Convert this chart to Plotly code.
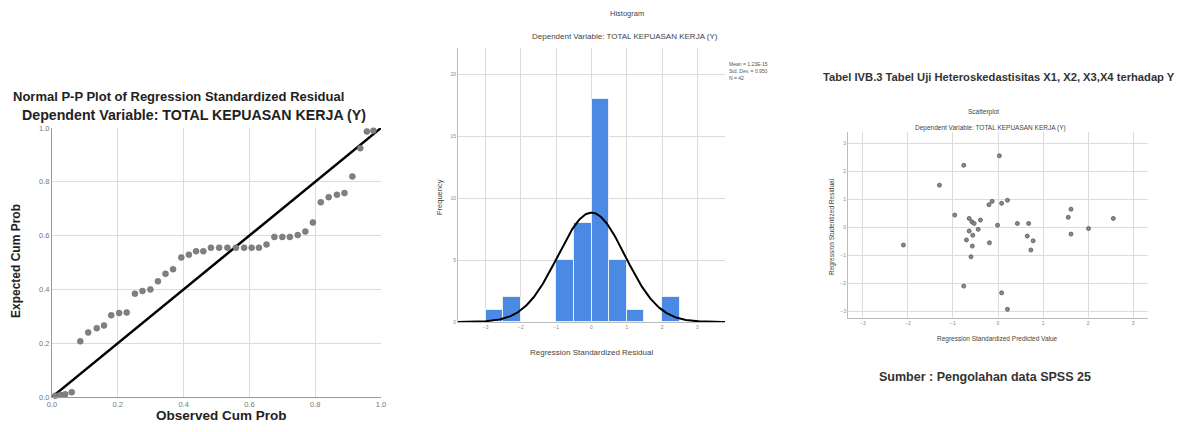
import math
import plotly.graph_objects as go

# The page adds an 8px body margin, so the figure is drawn 8px smaller and
# every reference pixel position is mapped with an 8px offset.
OFF = 8
W, H = 1184 - 2 * OFF, 432 - 2 * OFF

# ---------- Panel 1: Normal P-P plot data ----------
pp_observed = [0.010, 0.025, 0.040, 0.060, 0.086, 0.110, 0.136, 0.158, 0.180, 0.204,
               0.227, 0.252, 0.275, 0.299, 0.322, 0.345, 0.368, 0.393, 0.416, 0.438,
               0.460, 0.483, 0.508, 0.533, 0.559, 0.584, 0.607, 0.629, 0.652, 0.676,
               0.700, 0.723, 0.747, 0.770, 0.793, 0.817, 0.841, 0.866, 0.889, 0.913,
               0.937, 0.957, 0.977]
pp_expected = [0.005, 0.008, 0.010, 0.018, 0.207, 0.240, 0.256, 0.266, 0.304, 0.312,
               0.314, 0.384, 0.394, 0.400, 0.430, 0.458, 0.475, 0.519, 0.529, 0.542,
               0.542, 0.555, 0.555, 0.555, 0.555, 0.555, 0.555, 0.555, 0.567, 0.595,
               0.595, 0.595, 0.602, 0.615, 0.649, 0.724, 0.743, 0.752, 0.758, 0.820,
               0.925, 0.987, 0.990]
pp_ticks = [0.0, 0.2, 0.4, 0.6, 0.8, 1.0]
pp_ticklabels = ["0.0", "0.2", "0.4", "0.6", "0.8", "1.0"]

# ---------- Panel 2: Histogram data ----------
hist_centers = [-2.75, -2.25, -0.75, -0.25, 0.25, 0.75, 1.25, 2.25]
hist_counts = [1, 2, 5, 8, 18, 5, 1, 2]
hist_binwidth = 0.5
hist_mean = 0.0
hist_sd = 0.950
hist_n = 42
hist_xticks = [-3, -2, -1, 0, 1, 2, 3]
hist_yticks = [0, 5, 10, 15, 20]

# ---------- Panel 3: Scatterplot data ----------
sc_pred = [0.03, -0.76, -1.30, -0.20, -0.13, 0.08, 0.21, -0.96, -0.64, -0.58,
           -0.53, -0.39, -0.01, 0.43, 0.68, 1.62, 1.56, 2.56, 2.01, -0.64,
           -0.56, -0.44, -0.70, -0.57, -0.60, -0.19, 0.65, 0.78, 0.73, 1.62,
           -2.10, -0.76, 0.08, 0.21]
sc_resid = [2.55, 2.21, 1.50, 0.80, 0.92, 0.85, 0.96, 0.43, 0.31, 0.19,
            0.13, 0.25, 0.07, 0.13, 0.13, 0.64, 0.35, 0.31, -0.05, -0.14,
            -0.29, -0.08, -0.46, -0.68, -1.06, -0.56, -0.32, -0.49, -0.82, -0.25,
            -0.64, -2.11, -2.35, -2.94]
sc_ticks = [-3, -2, -1, 0, 1, 2, 3]


def px(x):
    return (x - OFF) / W


def py(y):
    return 1 - (y - OFF) / H


curve_x = [-3.78 + i * 7.56 / 300 for i in range(301)]
curve_y = [hist_n * hist_binwidth / (hist_sd * math.sqrt(2 * math.pi)) *
           math.exp(-0.5 * ((v - hist_mean) / hist_sd) ** 2) for v in curve_x]

fig = go.Figure()

# Panel 1
fig.add_trace(go.Scatter(x=[0, 1], y=[0, 1], mode="lines",
                         line=dict(color="black", width=2.5),
                         xaxis="x", yaxis="y", showlegend=False, cliponaxis=False))
fig.add_trace(go.Scatter(x=pp_observed, y=pp_expected, mode="markers",
                         marker=dict(color="#808080", size=6,
                                     line=dict(color="#6a6a6a", width=0.5)),
                         xaxis="x", yaxis="y", showlegend=False, cliponaxis=False))

# Panel 2
fig.add_trace(go.Bar(x=hist_centers, y=hist_counts, width=hist_binwidth,
                     marker=dict(color="#4a8ae4", line=dict(color="#e8eef8", width=1)),
                     xaxis="x2", yaxis="y2", showlegend=False))
fig.add_trace(go.Scatter(x=curve_x, y=curve_y, mode="lines",
                         line=dict(color="black", width=2),
                         xaxis="x2", yaxis="y2", showlegend=False))

# Panel 3
fig.add_trace(go.Scatter(x=sc_pred, y=sc_resid, mode="markers",
                         marker=dict(color="#8a8a8a", size=4,
                                     line=dict(color="#555555", width=0.8)),
                         xaxis="x3", yaxis="y3", showlegend=False))

grid = "#dcdcdc"
tickf = dict(family="Liberation Sans, Arial", size=7.5, color="#777777")
tinyf = dict(family="Liberation Sans, Arial", size=5, color="#888888")

fig.update_layout(
    width=W, height=H,
    margin=dict(l=0, r=0, t=0, b=0, autoexpand=False),
    paper_bgcolor="white", plot_bgcolor="white",
    bargap=0,
    xaxis=dict(domain=[px(52), px(381)], range=[0, 1], tickvals=pp_ticks,
               ticktext=pp_ticklabels, showgrid=True, gridcolor=grid, zeroline=False,
               showline=True, linecolor="#999999", tickfont=tickf, anchor="y",
               ticks="", automargin=False),
    yaxis=dict(domain=[py(397), py(128)], range=[0, 1], tickvals=pp_ticks,
               ticktext=pp_ticklabels, showgrid=True, gridcolor=grid, zeroline=False,
               showline=True, linecolor="#999999", tickfont=tickf, anchor="x",
               ticks="", automargin=False),
    xaxis2=dict(domain=[px(458), px(725)], range=[-3.78, 3.78], tickvals=hist_xticks,
                showgrid=True, gridcolor=grid, zeroline=False, showline=True,
                linecolor="#bbbbbb", tickfont=tinyf, anchor="y2", automargin=False),
    yaxis2=dict(domain=[py(322), py(48)], range=[0, 22.1], tickvals=hist_yticks,
                showgrid=True, gridcolor=grid, zeroline=False, showline=True,
                linecolor="#bbbbbb", tickfont=tinyf, anchor="x2", automargin=False),
    xaxis3=dict(domain=[px(848), px(1148)], range=[-3.33, 3.33], tickvals=sc_ticks,
                showgrid=True, gridcolor=grid, zeroline=False, showline=True,
                linecolor="#bbbbbb", tickfont=tinyf, anchor="y3", automargin=False),
    yaxis3=dict(domain=[py(318), py(132)], range=[-3.25, 3.4], tickvals=sc_ticks,
                showgrid=True, gridcolor=grid, zeroline=False, showline=True,
                linecolor="#bbbbbb", tickfont=tinyf, anchor="x3", automargin=False),
)

fam = "Liberation Sans, Arial"


def ann(text, x, y, size, color="#222222", angle=0, xanchor="center", yanchor="middle"):
    fig.add_annotation(text=text, x=px(x), y=py(y), xref="paper", yref="paper",
                       showarrow=False, textangle=angle, xanchor=xanchor, yanchor=yanchor,
                       borderpad=0,
                       font=dict(family=fam, size=size, color=color))


# Panel 1 texts
ann("<b>Normal P-P Plot of Regression Standardized Residual</b>", 178, 96, 13)
ann("<b>Dependent Variable: TOTAL KEPUASAN KERJA (Y)</b>", 194, 114.5, 14.2)
ann("<b>Observed Cum Prob</b>", 221, 424, 13.5, yanchor="bottom")
ann("<b>Expected Cum Prob</b>", 16, 261, 12, angle=-90)

# Panel 2 texts
ann("Histogram", 627, 14, 7.5, color="#444444")
ann("Dependent Variable: TOTAL KEPUASAN KERJA (Y)", 625, 37, 8, color="#444444")
ann("Regression Standardized Residual", 591, 352, 8, color="#444444")
ann("Frequency", 439, 197, 7.5, color="#444444", angle=-90)
ann("Mean = 1.23E-15", 728, 64, 5, color="#555555", xanchor="left")
ann("Std. Dev. = 0.950", 728, 71, 5, color="#555555", xanchor="left")
ann("N = 42", 728, 78, 5, color="#555555", xanchor="left")

# Panel 3 texts
ann("<b>Tabel IVB.3 Tabel Uji Heteroskedastisitas X1, X2, X3,X4 terhadap Y</b>",
    999, 77, 11.2, color="#333333")
ann("Scatterplot", 983, 112, 6.5, color="#444444")
ann("Dependent Variable: TOTAL KEPUASAN KERJA (Y)", 990, 128, 6.5, color="#444444")
ann("Regression Standardized Predicted Value", 997, 339, 6.5, color="#444444")
ann("Regression Studentized Residual", 832, 227, 6.5, color="#444444", angle=-90)
ann("<b>Sumber : Pengolahan data SPSS 25</b>", 985, 377, 12.5, color="#333333")

fig.write_html("out.html")
